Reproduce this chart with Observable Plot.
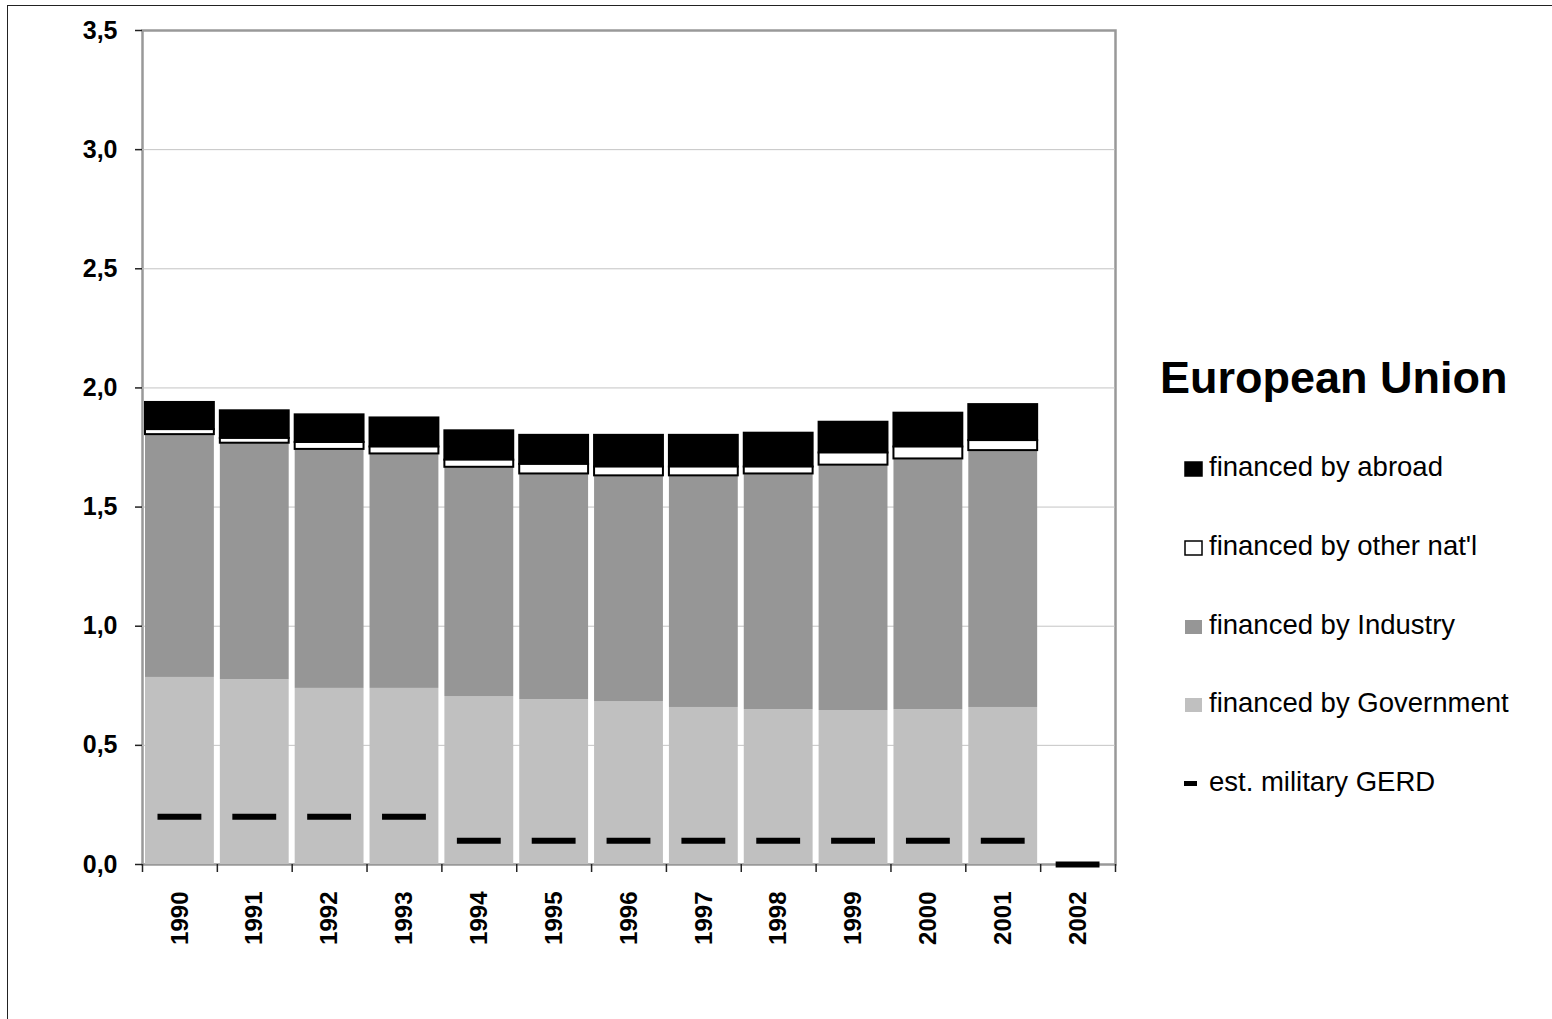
<!DOCTYPE html>
<html>
<head>
<meta charset="utf-8">
<script src="https://cdn.jsdelivr.net/npm/d3@7"></script>
<script src="https://cdn.jsdelivr.net/npm/@observablehq/plot@0.6"></script>
<style>
  html, body { margin: 0; padding: 0; background: #fff; overflow: hidden; }
  #wrap { position: relative; width: 1552px; height: 1019px; font-family: "Liberation Sans", Arial, sans-serif; }
  #border { position: absolute; left: 7px; top: 5px; width: 1700px; height: 1200px; border: 1px solid #222; box-sizing: border-box; }
  #chart { position: absolute; left: 0; top: 0; }
  #legend { position: absolute; left: 0; top: 0; }
</style>
</head>
<body>
<div id="wrap">
  <div id="border"></div>
  <div id="chart"></div>
  <svg id="legend" width="1552" height="1019"></svg>
</div>
<script>
// ---- data ----
const years = ["1990","1991","1992","1993","1994","1995","1996","1997","1998","1999","2000","2001","2002"];
const government = [0.785,0.776,0.739,0.739,0.705,0.692,0.684,0.659,0.650,0.646,0.650,0.659,null];
const industry   = [1.019,0.992,1.003,0.984,0.962,0.947,0.947,0.972,0.989,1.030,1.052,1.078,null];
const otherNatl  = [0.021,0.020,0.029,0.029,0.030,0.040,0.037,0.037,0.029,0.051,0.050,0.042,null];
const abroad     = [0.114,0.116,0.116,0.122,0.123,0.122,0.133,0.133,0.142,0.129,0.142,0.151,null];
const military   = [0.2,0.2,0.2,0.2,0.1,0.1,0.1,0.1,0.1,0.1,0.1,0.1,0.0];
const yTicks = [0,0.5,1.0,1.5,2.0,2.5,3.0,3.5];
const gridTicks = [0.5,1.0,1.5,2.0,2.5,3.0];
const seriesNames = ["financed by abroad","financed by other nat'l","financed by Industry","financed by Government","est. military GERD"];
const title = "European Union";

// ---- build stacked table ----
const rows = years.map((year, i) => {
  const g = government[i], n = industry[i], o = otherNatl[i], a = abroad[i];
  if (g == null) return {year, military: military[i]};
  return {
    year, military: military[i],
    g1: 0, g2: g,
    n1: g, n2: g + n,
    o1: g + n, o2: g + n + o,
    a1: g + n + o, a2: g + n + o + a
  };
});
const barRows = rows.filter(d => d.g2 != null);

const W = 1552, H = 1019, ML = 142, MR = 437, MT = 30, MB = 155;
const step = (W - ML - MR) / years.length;

const chart = Plot.plot({
  width: W, height: H,
  marginLeft: ML, marginRight: MR, marginTop: MT, marginBottom: MB,
  style: {fontFamily: "'Liberation Sans', Arial, sans-serif", background: "transparent", color: "#000"},
  x: {domain: years, paddingInner: 0.08, paddingOuter: 0.04, round: false, label: null},
  y: {domain: [0, 3.5], label: null},
  marks: [
    Plot.frame({stroke: "#999", strokeWidth: 2.5}),
    Plot.gridY(gridTicks, {stroke: "#c4c4c4", strokeOpacity: 1, strokeWidth: 1}),
    Plot.barY(barRows, {x: "year", y1: "g1", y2: "g2", fill: "#c0c0c0"}),
    Plot.barY(barRows, {x: "year", y1: "n1", y2: "n2", fill: "#969696"}),
    Plot.barY(barRows, {x: "year", y1: "a1", y2: "a2", fill: "#000", stroke: "#000", strokeWidth: 2}),
    Plot.barY(barRows, {x: "year", y1: "o1", y2: "o2", fill: "#fff", stroke: "#000", strokeWidth: 2}),
    Plot.tickY(rows, {x: "year", y: "military", stroke: "#000", strokeWidth: 6, insetLeft: 12.5, insetRight: 12.5, strokeLinecap: "butt"}),
    Plot.axisY({ticks: yTicks, tickFormat: d => d.toFixed(1).replace(".", ","), tickSize: 7, tickPadding: 18,
      fontSize: 25, fontWeight: "bold", line: true, stroke: "#222", strokeWidth: 1.5, label: null}),
    Plot.axisX({tickSize: 0, tickPadding: 27, tickRotate: -90, fontSize: 24, fontWeight: "bold", line: true, stroke: "#222", strokeWidth: 1.5, label: null}),
    Plot.ruleX(years, {x: d => d, y1: 0, y2: 0, insetBottom: -8, dx: -step / 2, stroke: "#222", strokeWidth: 1.5}),
    Plot.ruleX([years[years.length - 1]], {x: d => d, y1: 0, y2: 0, insetBottom: -8, dx: step / 2, stroke: "#222", strokeWidth: 1.5})
  ]
});
document.getElementById("chart").appendChild(chart);

// ---- legend ----
const lg = d3.select("#legend");
lg.append("text").attr("x", 1160).attr("y", 393).attr("font-size", 45).attr("font-weight", "bold")
  .attr("font-family", "'Liberation Sans', Arial, sans-serif").text(title);
const rowsY = [476, 555, 634, 712, 791];
const swatches = [
  {fill: "#000", stroke: "#000"},
  {fill: "#fff", stroke: "#000"},
  {fill: "#969696", stroke: "none"},
  {fill: "#c0c0c0", stroke: "none"},
  {fill: "#000", stroke: "none"}
];
seriesNames.forEach((name, i) => {
  const sw = swatches[i];
  const y = rowsY[i];
  if (i < 4) {
    lg.append("rect").attr("x", 1185).attr("y", y - 14).attr("width", 17).attr("height", 14)
      .attr("fill", sw.fill).attr("stroke", sw.stroke).attr("stroke-width", 1.5);
  } else {
    lg.append("rect").attr("x", 1184).attr("y", y - 10).attr("width", 13).attr("height", 5).attr("fill", "#000");
  }
  lg.append("text").attr("x", 1209).attr("y", y).attr("font-size", 27.5)
    .attr("font-family", "'Liberation Sans', Arial, sans-serif").text(name);
});
</script>
</body>
</html>
